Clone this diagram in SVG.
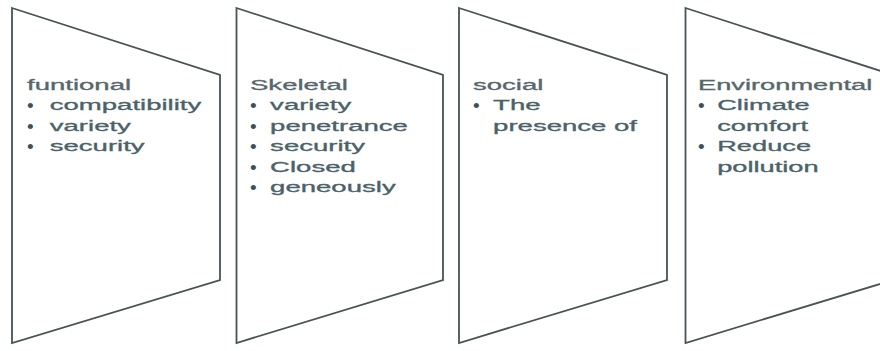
<svg xmlns="http://www.w3.org/2000/svg" width="880" height="351" viewBox="0 0 880 351">
<style>
.shape{fill:#ffffff;stroke:#475356;stroke-width:1.8;stroke-linejoin:miter}
.h{font-family:"Liberation Sans",Arial,sans-serif;font-size:14.5px;fill:#56676c;stroke:#56676c;stroke-width:0.3}
.t{font-family:"Liberation Sans",Arial,sans-serif;font-size:14.5px;fill:#4a6268;stroke:#4a6268;stroke-width:0.3}
.b{font-family:"Liberation Sans",Arial,sans-serif;font-size:19px;fill:#3c5257}
</style>
<rect width="880" height="351" fill="#ffffff"/>
<g id="node-funtional">
<polygon class="shape" points="12,8 220,75 220,280 12,343"/>
<g transform="translate(27,0) scale(1.9,1)">
<text class="h" x="0" y="90">funtional</text>
<text class="t" x="12" y="110.5">compatibility</text>
<text class="t" x="12" y="131">variety</text>
<text class="t" x="12" y="151.5">security</text>
</g>
<text class="b" x="27" y="112">•</text>
<text class="b" x="27" y="132.5">•</text>
<text class="b" x="27" y="153">•</text>
</g>
<g id="node-skeletal">
<polygon class="shape" points="236.5,8 443,75 443,280 236.5,343"/>
<g transform="translate(250,0) scale(1.9,1)">
<text class="h" x="0" y="90">Skeletal</text>
<text class="t" x="10.6" y="110.5">variety</text>
<text class="t" x="10.6" y="131">penetrance</text>
<text class="t" x="10.6" y="151.5">security</text>
<text class="t" x="10.6" y="172">Closed</text>
<text class="t" x="10.6" y="192.5">geneously</text>
</g>
<text class="b" x="250" y="112">•</text>
<text class="b" x="250" y="132.5">•</text>
<text class="b" x="250" y="153">•</text>
<text class="b" x="250" y="173.5">•</text>
<text class="b" x="250" y="194">•</text>
</g>
<g id="node-social">
<polygon class="shape" points="459,8 667,75 667,280 459,343"/>
<g transform="translate(473,0) scale(1.9,1)">
<text class="h" x="0" y="90">social</text>
<text class="t" x="10.6" y="110.5">The</text>
<text class="t" x="10.6" y="131">presence of</text>
</g>
<text class="b" x="473" y="112">•</text>
</g>
<g id="node-environmental">
<polygon class="shape" points="685.5,8 893,75 893,280 685.5,343"/>
<g transform="translate(698,0) scale(1.88,1)">
<text class="h" x="0" y="90">Environmental</text>
<text class="t" x="10.2" y="110.5">Climate</text>
<text class="t" x="10.2" y="131">comfort</text>
<text class="t" x="10.2" y="151.5">Reduce</text>
<text class="t" x="10.2" y="172">pollution</text>
</g>
<text class="b" x="698" y="112">•</text>
<text class="b" x="698" y="153">•</text>
</g>
<g id="connectors"></g>
</svg>
